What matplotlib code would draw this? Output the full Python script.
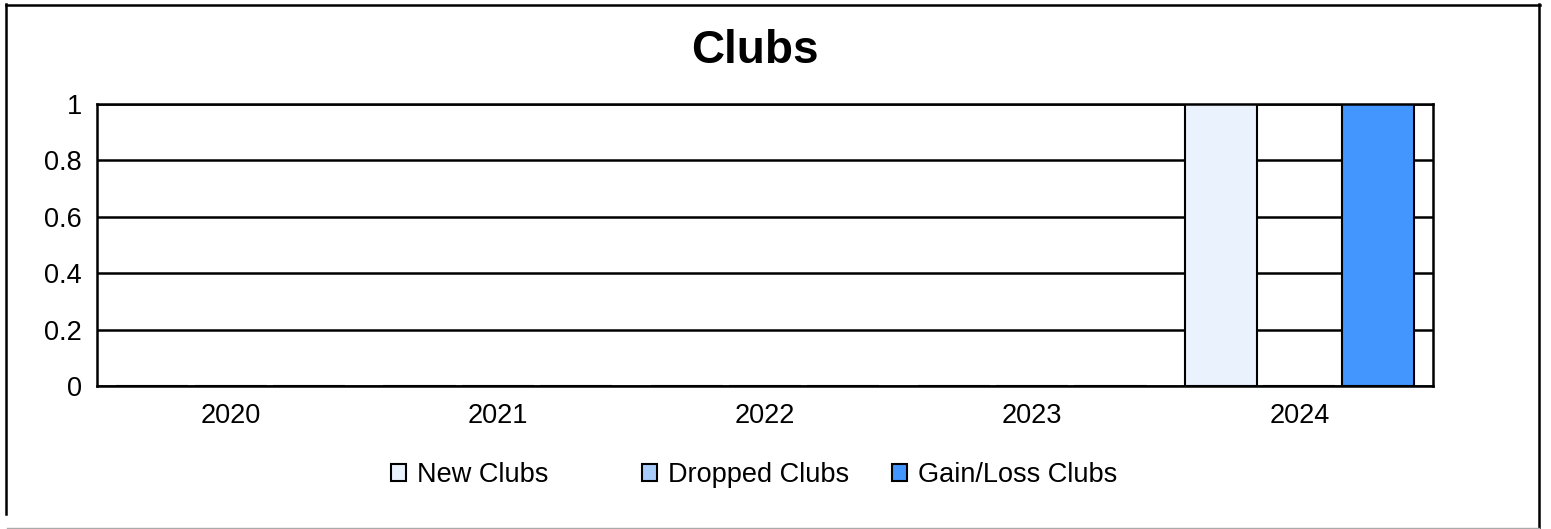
import matplotlib.pyplot as plt
from matplotlib.lines import Line2D
import numpy as np

plt.rcParams['font.family'] = ['Liberation Sans', 'DejaVu Sans']

years = ['2020', '2021', '2022', '2023', '2024']
new_clubs = [0, 0, 0, 0, 1]
dropped_clubs = [0, 0, 0, 0, 0]
gain_loss_clubs = [0, 0, 0, 0, 1]

series = [
    ('New Clubs', new_clubs, '#EAF2FE'),
    ('Dropped Clubs', dropped_clubs, '#A9CDFB'),
    ('Gain/Loss Clubs', gain_loss_clubs, '#4496FF'),
]

W, H = 1551, 529
fig = plt.figure(figsize=(W / 100, H / 100), dpi=100)
ax = fig.add_axes([97 / W, 1 - 386 / H, (1433 - 97) / W, (386 - 104) / H])

x = np.arange(len(years))
width = 0.27
step = 0.293
bars = []
for i, (name, vals, col) in enumerate(series):
    b = ax.bar(x + (i - 1) * step, vals, width, color=col, edgecolor='black',
               linewidth=1.5, label=name, zorder=3)
    bars.append(b)

ax.set_xlim(-0.5, len(years) - 0.5)
ax.set_ylim(0, 1)
ax.set_yticks(np.arange(0, 1.01, 0.2))
ax.set_yticklabels(['0', '0.2', '0.4', '0.6', '0.8', '1'])
ax.set_xticks(x)
ax.set_xticklabels(years)
ax.tick_params(axis='both', length=0, labelsize=19.5)
ax.tick_params(axis='x', pad=12)
ax.tick_params(axis='y', pad=11)
ax.yaxis.grid(True, color='black', linewidth=1.8, zorder=0)
ax.set_axisbelow(True)
for s in ax.spines.values():
    s.set_linewidth(1.8)
    s.set_zorder(4)

fig.text(755 / W, 1 - 51 / H, 'Clubs', ha='center', va='center',
         fontsize=33, fontweight='bold')

# legend entries sit in equal-width slots
slots = [391, 642, 892]
for b, (name, _, _), xl in zip(bars, series, slots):
    fig.legend(handles=[b], labels=[name], loc='center left',
               bbox_to_anchor=(xl / W, 1 - 475 / H), frameon=False,
               fontsize=19.5, handlelength=0.55, handleheight=0.55,
               handletextpad=0.4, borderpad=0, borderaxespad=0)

# outer frame
def fline(x0, y0, x1, y1, **kw):
    fig.add_artist(Line2D([x0 / W, x1 / W], [1 - y0 / H, 1 - y1 / H],
                          transform=fig.transFigure, **kw))

fline(6, 4.5, 1540, 4.5, color='black', linewidth=1.8)
fline(6, 4, 6, 514, color='black', linewidth=1.8)
fline(1539, 4, 1539, 529, color='black', linewidth=1.8)
fline(7, 527.5, 1539, 527.5, color='#aaaaaa', linewidth=1)

fig.savefig('out.png', dpi=100)
